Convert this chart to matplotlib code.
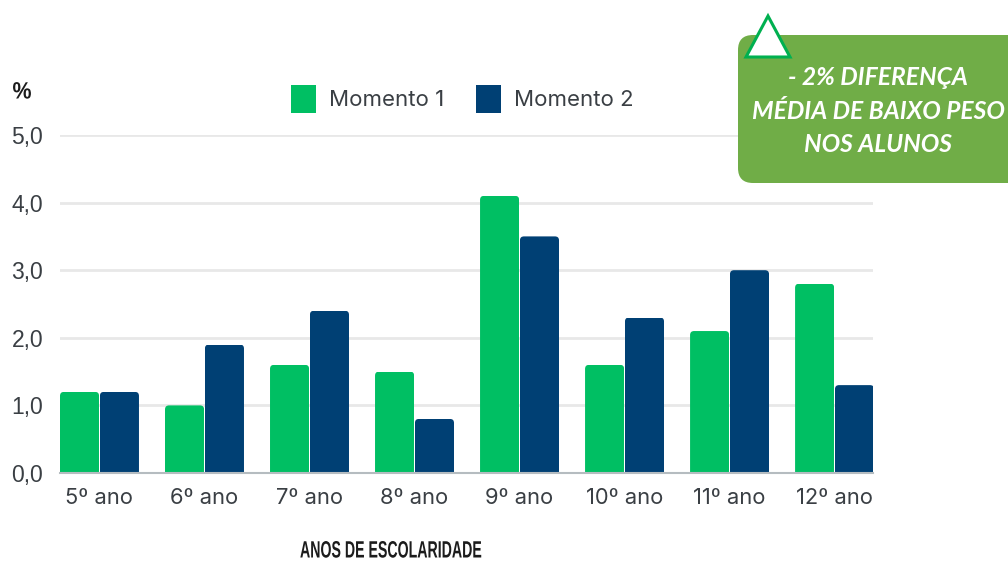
import numpy as np
import matplotlib.pyplot as plt
import matplotlib.patheffects as pe
from matplotlib.patches import FancyBboxPatch, Polygon
from matplotlib.transforms import Affine2D, IdentityTransform

anos = ['5º ano', '6º ano', '7º ano', '8º ano', '9º ano', '10º ano', '11º ano', '12º ano']
momento1 = [1.2, 1.0, 1.6, 1.5, 4.1, 1.6, 2.1, 2.8]
momento2 = [1.2, 1.9, 2.4, 0.8, 3.5, 2.3, 3.0, 1.3]
yticks = [0, 1, 2, 3, 4, 5]
ylabels = ['0,0', '1,0', '2,0', '3,0', '4,0', '5,0']
nota = '- 2% DIFERENÇA\nMÉDIA DE BAIXO PESO\nNOS ALUNOS'

W, H = 1008, 563
verde = '#00BF63'
azul = '#004074'
cinza = '#3a3f44'

plt.rcParams['font.family'] = ['Inter', 'DejaVu Sans']


def px(x, y):
    return x / W, 1 - y / H


# estreita o texto na horizontal, em torno do centro
class Estreita(pe.AbstractPathEffect):
    def __init__(self, cx, sx):
        super().__init__()
        self.cx = cx
        self.sx = sx

    def draw_path(self, renderer, gc, tpath, affine, rgbFace=None):
        aperto = Affine2D().translate(-self.cx, 0).scale(self.sx, 1).translate(self.cx, 0)
        renderer.draw_path(gc, tpath, affine + aperto, rgbFace)


fig = plt.figure(figsize=(W / 100, H / 100), dpi=100, facecolor='white')
ax = fig.add_axes([60 / W, 1 - 473 / H, (873 - 60) / W, (473 - 135) / H])

x = np.arange(len(anos))
b1 = ax.bar(x - 0.19, momento1, 0.372, color=verde, label='Momento 1', zorder=3)
b2 = ax.bar(x + 0.19, momento2, 0.372, color=azul, label='Momento 2', zorder=3)

ax.set_xlim(-0.376, 7.366)
ax.set_ylim(0, 5)
ax.set_xticks(x, anos, fontsize=15.8, color=cinza)
ax.set_yticks(yticks, ylabels, fontsize=16.5, color=cinza, family=['Liberation Sans'])
ax.tick_params(length=0)
ax.tick_params(axis='x', pad=11)
ax.tick_params(axis='y', pad=12)
ax.grid(True, axis='y', color='#e8e8e8', linewidth=2, zorder=0)
ax.set_axisbelow(True)
for s in ['top', 'right', 'left']:
    ax.spines[s].set_visible(False)
ax.spines['bottom'].set_color('#b5bcc0')
ax.spines['bottom'].set_linewidth(1.5)
ax.spines['bottom'].set_zorder(4)

# cantos de cima arredondados: recorte em pixels sobre cada barra
for b in list(b1) + list(b2):
    (xa, ya), (xb, yb) = ax.transData.transform([(b.get_x(), 0), (b.get_x() + b.get_width(), b.get_height())])
    recorte = FancyBboxPatch((xa, ya - 10), xb - xa, yb - ya + 10, boxstyle='round,pad=0,rounding_size=4',
                             transform=IdentityTransform())
    b.set_clip_path(recorte)

fig.legend(loc='center', bbox_to_anchor=px(462, 99), ncols=2, frameon=False, fontsize=16,
           handlelength=1.12, handleheight=1.55, handletextpad=0.58, columnspacing=1.44,
           labelcolor=cinza)

# textos soltos, estreitados ate a largura do original
for texto, cx, cy, largura, tam in [('%', 22, 92, 19, 17), ('ANOS DE ESCOLARIDADE', 391, 551, 182, 17)]:
    t = fig.text(*px(cx, cy), texto, fontsize=tam, fontweight='bold', ha='center', va='center',
                 family=['Liberation Sans'], color='#1c1c1c')
    atual = t.get_window_extent(fig.canvas.get_renderer()).width
    t.set_path_effects([Estreita(cx, largura / atual)])

# caixa verde
caixa = FancyBboxPatch((738, 35), 1040 - 738, 183 - 35, boxstyle='round,pad=0,rounding_size=15',
                       facecolor='#70AD47', edgecolor='none',
                       transform=Affine2D().scale(1, -1).translate(0, H), zorder=5)
fig.add_artist(caixa)
tri = Polygon([px(768, 16), px(746, 57), px(790, 57)], closed=True, facecolor='white',
              edgecolor='#00B050', linewidth=2.2, transform=fig.transFigure, zorder=6)
fig.add_artist(tri)
fig.text(*px(878, 111), nota, fontsize=17.7, fontweight='bold', style='italic', color='white',
         ha='center', va='center', linespacing=1.53, family=['Lato', 'DejaVu Sans'], zorder=7)

fig.savefig('out.png', dpi=100)
